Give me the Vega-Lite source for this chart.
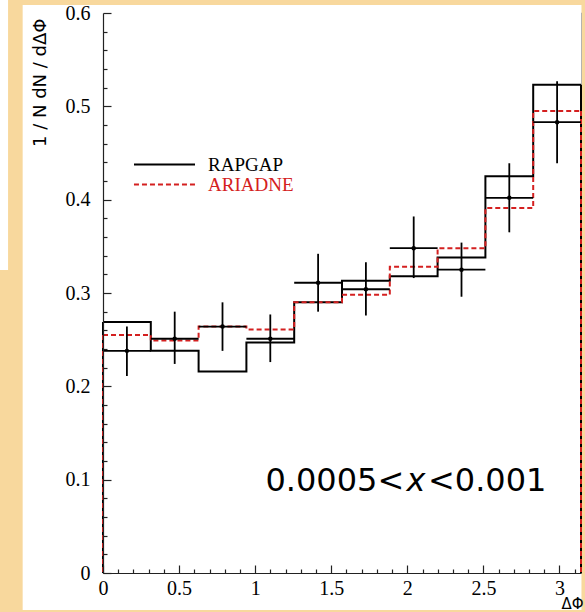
{
  "$schema": "https://vega.github.io/schema/vega-lite/v6.json",
  "width": 478,
  "height": 560,
  "autosize": {"type": "none"},
  "padding": {"left": 103, "top": 13, "right": 4, "bottom": 39},
  "background": "#F8D89D",
  "config": {
    "view": {"stroke": "#666666", "strokeWidth": 1.2, "fill": "white"},
    "font": "Liberation Serif",
    "axis": {"labelOverlap": false, "labelFlush": false, "labelBound": false}
  },
  "datasets": {
    "mc": [
      {"model": "RAPGAP", "bin": 1, "lo": 0, "hi": 0.31416, "value": 0.269},
      {"model": "RAPGAP", "bin": 2, "lo": 0.31416, "hi": 0.62832, "value": 0.238},
      {"model": "RAPGAP", "bin": 3, "lo": 0.62832, "hi": 0.94248, "value": 0.216},
      {"model": "RAPGAP", "bin": 4, "lo": 0.94248, "hi": 1.25664, "value": 0.247},
      {"model": "RAPGAP", "bin": 5, "lo": 1.25664, "hi": 1.5708, "value": 0.290},
      {"model": "RAPGAP", "bin": 6, "lo": 1.5708, "hi": 1.88496, "value": 0.313},
      {"model": "RAPGAP", "bin": 7, "lo": 1.88496, "hi": 2.19911, "value": 0.318},
      {"model": "RAPGAP", "bin": 8, "lo": 2.19911, "hi": 2.51327, "value": 0.338},
      {"model": "RAPGAP", "bin": 9, "lo": 2.51327, "hi": 2.82743, "value": 0.425},
      {"model": "RAPGAP", "bin": 10, "lo": 2.82743, "hi": 3.14159, "value": 0.523},
      {"model": "ARIADNE", "bin": 1, "lo": 0, "hi": 0.31416, "value": 0.255},
      {"model": "ARIADNE", "bin": 2, "lo": 0.31416, "hi": 0.62832, "value": 0.249},
      {"model": "ARIADNE", "bin": 3, "lo": 0.62832, "hi": 0.94248, "value": 0.264},
      {"model": "ARIADNE", "bin": 4, "lo": 0.94248, "hi": 1.25664, "value": 0.261},
      {"model": "ARIADNE", "bin": 5, "lo": 1.25664, "hi": 1.5708, "value": 0.290},
      {"model": "ARIADNE", "bin": 6, "lo": 1.5708, "hi": 1.88496, "value": 0.298},
      {"model": "ARIADNE", "bin": 7, "lo": 1.88496, "hi": 2.19911, "value": 0.328},
      {"model": "ARIADNE", "bin": 8, "lo": 2.19911, "hi": 2.51327, "value": 0.348},
      {"model": "ARIADNE", "bin": 9, "lo": 2.51327, "hi": 2.82743, "value": 0.391},
      {"model": "ARIADNE", "bin": 10, "lo": 2.82743, "hi": 3.14159, "value": 0.495}
    ],
    "pts": [
      {"x": 0.15708, "xlo": 0, "xhi": 0.31416, "y": 0.238, "ylo": 0.211, "yhi": 0.264},
      {"x": 0.47124, "xlo": 0.31416, "xhi": 0.62832, "y": 0.251, "ylo": 0.224, "yhi": 0.280},
      {"x": 0.7854, "xlo": 0.62832, "xhi": 0.94248, "y": 0.264, "ylo": 0.238, "yhi": 0.290},
      {"x": 1.09956, "xlo": 0.94248, "xhi": 1.25664, "y": 0.251, "ylo": 0.226, "yhi": 0.277},
      {"x": 1.41372, "xlo": 1.25664, "xhi": 1.5708, "y": 0.311, "ylo": 0.280, "yhi": 0.342},
      {"x": 1.72788, "xlo": 1.5708, "xhi": 1.88496, "y": 0.304, "ylo": 0.276, "yhi": 0.333},
      {"x": 2.04204, "xlo": 1.88496, "xhi": 2.19911, "y": 0.348, "ylo": 0.316, "yhi": 0.382},
      {"x": 2.35619, "xlo": 2.19911, "xhi": 2.51327, "y": 0.325, "ylo": 0.296, "yhi": 0.354},
      {"x": 2.67035, "xlo": 2.51327, "xhi": 2.82743, "y": 0.402, "ylo": 0.365, "yhi": 0.439},
      {"x": 2.98451, "xlo": 2.82743, "xhi": 3.14159, "y": 0.483, "ylo": 0.439, "yhi": 0.527}
    ]
  },
  "layer": [
    {
      "data": {"values": [{}]},
      "mark": {"type": "rect", "color": "white", "clip": false},
      "encoding": {
        "x": {
          "datum": -0.528, "type": "quantitative",
          "scale": {"domain": [0, 3.14159], "nice": false, "zero": false},
          "axis": {
            "title": "ΔΦ",
            "titleFont": "DejaVu Sans", "titleFontSize": 15, "titleFontWeight": "normal", "titleColor": "black",
            "titleAnchor": "end", "titleAlign": "right", "titleBaseline": "alphabetic",
            "titleX": 480, "titleY": 35,
            "values": [0,0.1,0.2,0.3,0.4,0.5,0.6,0.7,0.8,0.9,1,1.1,1.2,1.3,1.4,1.5,1.6,1.7,1.8,1.9,2,2.1,2.2,2.3,2.4,2.5,2.6,2.7,2.8,2.9,3,3.1],
            "tickCount": 200,
            "labelExpr": "abs(datum.value*2 - round(datum.value*2)) < 0.001 ? format(datum.value, '~g') : ''",
            "labelOverlap": false, "labelFlush": false, "labelBound": false,
            "labelFont": "Liberation Serif", "labelFontSize": 20, "labelColor": "black",
            "labelPadding": 13,
            "tickSize": {"condition": {"test": "abs(datum.value*2 - round(datum.value*2)) < 0.001", "value": -8}, "value": -4},
            "tickColor": "#222222", "tickWidth": 1.2,
            "domainColor": "#222222", "domainWidth": 1.2,
            "grid": false, "zindex": 1
          }
        },
        "x2": {"datum": 3.1446},
        "y": {
          "datum": 0.6086, "type": "quantitative",
          "scale": {"domain": [0, 0.6], "nice": false, "zero": true},
          "axis": {
            "title": "1 / N dN / dΔΦ",
            "titleFont": "DejaVu Sans", "titleFontSize": 18, "titleFontWeight": "normal", "titleColor": "black",
            "titleAnchor": "end", "titleAlign": "right", "titleBaseline": "alphabetic", "titleAngle": -90,
            "titleX": -58, "titleY": 5,
            "values": [0,0.02,0.04,0.06,0.08,0.1,0.12,0.14,0.16,0.18,0.2,0.22,0.24,0.26,0.28,0.3,0.32,0.34,0.36,0.38,0.4,0.42,0.44,0.46,0.48,0.5,0.52,0.54,0.56,0.58,0.6],
            "tickCount": 200,
            "labelExpr": "abs(datum.value*10 - round(datum.value*10)) < 0.001 ? format(datum.value, '~g') : ''",
            "labelOverlap": false, "labelFlush": false, "labelBound": false,
            "labelFont": "Liberation Serif", "labelFontSize": 20, "labelColor": "black",
            "labelPadding": 21,
            "tickSize": {"condition": {"test": "abs(datum.value*10 - round(datum.value*10)) < 0.001", "value": -8}, "value": -4},
            "tickColor": "#222222", "tickWidth": 1.2,
            "domainColor": "#222222", "domainWidth": 1.2,
            "grid": false, "zindex": 1
          }
        },
        "y2": {"datum": -0.0396}
      }
    },
    {
      "data": {"values": [{}]},
      "mark": {"type": "rect", "color": "white", "clip": false},
      "encoding": {
        "x": {"datum": -0.677, "type": "quantitative"},
        "x2": {"datum": -0.624},
        "y": {"datum": 0.62, "type": "quantitative"},
        "y2": {"datum": 0.3246}
      }
    },
    {
      "data": {"name": "mc"},
      "transform": [{"fold": ["lo", "hi"], "as": ["ek", "edge"]}],
      "layer": [
        {
          "mark": {"type": "line", "strokeWidth": 2},
          "encoding": {
            "x": {"field": "edge", "type": "quantitative"},
            "y": {"field": "value", "type": "quantitative"},
            "order": [{"field": "bin", "type": "quantitative"}, {"field": "ek", "sort": "descending"}],
            "color": {
              "field": "model", "type": "nominal",
              "scale": {"domain": ["RAPGAP", "ARIADNE"], "range": ["black", "#d42020"]},
              "legend": {
                "title": null, "orient": "none", "legendX": 52, "legendY": 142,
                "symbolType": "M-4,0H4", "symbolSize": 233, "symbolStrokeWidth": 2,
                "labelFont": "Liberation Serif", "labelFontSize": 19, "labelOffset": 34,
                "rowPadding": -3, "padding": 0,
                "encode": {"labels": {"update": {"fill": {"signal": "datum.label === 'ARIADNE' ? '#d42020' : 'black'"}}}}
              }
            },
            "strokeDash": {
              "field": "model", "type": "nominal",
              "scale": {"domain": ["RAPGAP", "ARIADNE"], "range": [[1, 0], [5, 3]]},
              "legend": {
                "title": null, "orient": "none", "legendX": 52, "legendY": 142,
                "symbolType": "M-4,0H4", "symbolSize": 233, "symbolStrokeWidth": 2,
                "labelFont": "Liberation Serif", "labelFontSize": 19, "labelOffset": 34,
                "rowPadding": -3, "padding": 0,
                "encode": {"labels": {"update": {"fill": {"signal": "datum.label === 'ARIADNE' ? '#d42020' : 'black'"}}}}
              }
            }
          }
        },
        {
          "transform": [{"filter": "(datum.bin == 1 && datum.ek == 'lo') || (datum.bin == 10 && datum.ek == 'hi')"}],
          "mark": {"type": "rule", "strokeWidth": 2},
          "encoding": {
            "x": {"field": "edge", "type": "quantitative"},
            "y": {"field": "value", "type": "quantitative"},
            "y2": {"datum": 0},
            "color": {"field": "model", "type": "nominal"},
            "strokeDash": {"field": "model", "type": "nominal"}
          }
        }
      ]
    },
    {
      "data": {"name": "pts"},
      "layer": [
        {
          "mark": {"type": "rule", "color": "black", "strokeWidth": 1.8},
          "encoding": {
            "x": {"field": "x", "type": "quantitative"},
            "y": {"field": "ylo", "type": "quantitative"},
            "y2": {"field": "yhi"}
          }
        },
        {
          "mark": {"type": "rule", "color": "black", "strokeWidth": 1.8},
          "encoding": {
            "x": {"field": "xlo", "type": "quantitative"},
            "x2": {"field": "xhi"},
            "y": {"field": "y", "type": "quantitative"}
          }
        },
        {
          "mark": {"type": "point", "filled": true, "color": "black", "size": 20, "opacity": 1, "shape": "circle"},
          "encoding": {
            "x": {"field": "x", "type": "quantitative"},
            "y": {"field": "y", "type": "quantitative"}
          }
        }
      ]
    },
    {
      "data": {"values": [{}]},
      "layer": [
        {
          "mark": {"type": "text", "text": "0.0005<", "font": "DejaVu Sans", "fontSize": 32, "align": "right", "baseline": "alphabetic", "color": "black"},
          "encoding": {"x": {"datum": 1.98, "type": "quantitative"}, "y": {"datum": 0.0879, "type": "quantitative"}}
        },
        {
          "mark": {"type": "text", "text": "x", "font": "DejaVu Sans", "fontSize": 32, "fontStyle": "italic", "align": "center", "baseline": "alphabetic", "color": "black"},
          "encoding": {"x": {"datum": 2.057, "type": "quantitative"}, "y": {"datum": 0.0879, "type": "quantitative"}}
        },
        {
          "mark": {"type": "text", "text": "<0.001", "font": "DejaVu Sans", "fontSize": 32, "align": "left", "baseline": "alphabetic", "color": "black"},
          "encoding": {"x": {"datum": 2.136, "type": "quantitative"}, "y": {"datum": 0.0879, "type": "quantitative"}}
        }
      ]
    }
  ]
}
